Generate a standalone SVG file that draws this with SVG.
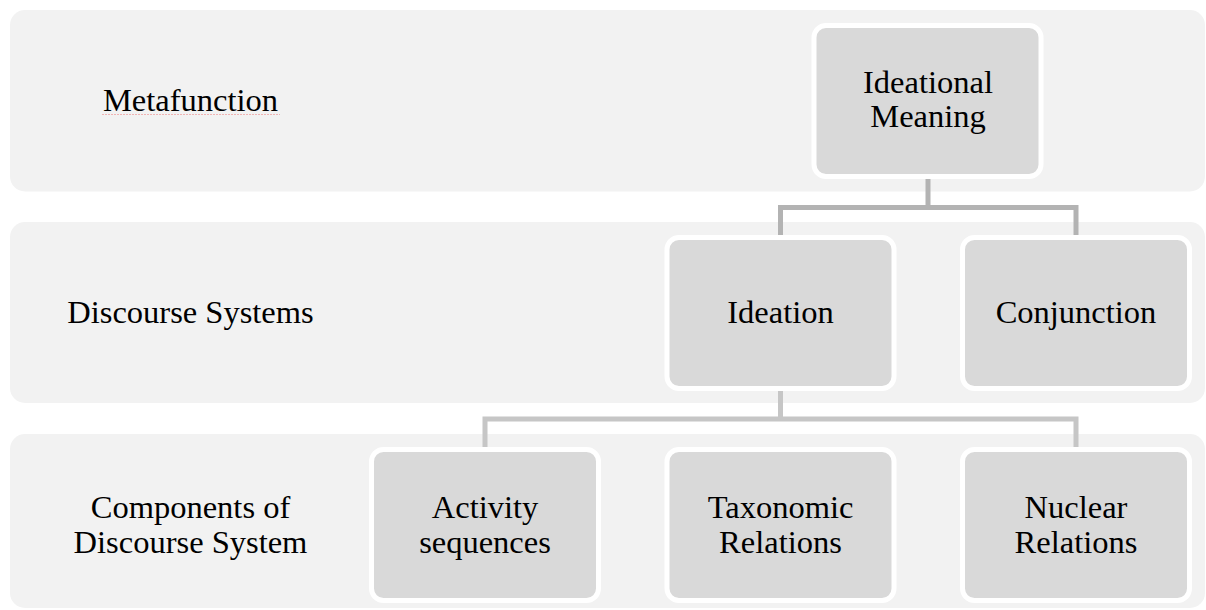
<svg xmlns="http://www.w3.org/2000/svg" width="1206" height="610" viewBox="0 0 1206 610">
<style>
.band{fill:#f2f2f2}
.node{fill:#d9d9d9;stroke:#ffffff;stroke-width:5}
.t{font-family:"Liberation Serif","Times New Roman",serif;font-size:32.5px;fill:#000;text-anchor:middle}
.c1{fill:none;stroke:#b3b3b3;stroke-width:5}
.c2{fill:none;stroke:#c6c6c6;stroke-width:5}
</style>
<rect width="1206" height="610" fill="#ffffff"/>
<g id="bands">
<g id="band-metafunction">
<rect class="band" x="10" y="10" width="1195" height="181.5" rx="15"/>
<text class="t" x="190.5" y="111">Metafunction</text>
<line x1="102" y1="114.5" x2="280" y2="114.5" stroke="#f0b4b4" stroke-width="1" stroke-dasharray="2 1"/>
</g>
<g id="band-discourse-systems">
<rect class="band" x="10" y="222" width="1195" height="181" rx="15"/>
<text class="t" x="190.5" y="323">Discourse Systems</text>
</g>
<g id="band-components">
<rect class="band" x="10" y="434" width="1195" height="174" rx="15"/>
<text class="t" x="190.5" y="517.5">Components of</text>
<text class="t" x="190.5" y="552.5">Discourse System</text>
</g>
</g>
<g id="connectors">
<path class="c1" d="M928 179 V207.5 M780.5 235 V207.5 H1076 V235"/>
<path class="c2" d="M780.5 391 V419 M485 447 V419 H1076 V447"/>
</g>
<g id="node-ideational-meaning">
<rect class="node" x="814" y="25.5" width="227" height="151" rx="12"/>
<text class="t" x="928" y="93">Ideational</text>
<text class="t" x="928" y="127">Meaning</text>
</g>
<g id="node-ideation">
<rect class="node" x="667" y="237.5" width="227" height="151" rx="12"/>
<text class="t" x="780.5" y="323">Ideation</text>
</g>
<g id="node-conjunction">
<rect class="node" x="962.5" y="237.5" width="227" height="151" rx="12"/>
<text class="t" x="1076" y="323">Conjunction</text>
</g>
<g id="node-activity-sequences">
<rect class="node" x="371.5" y="449.5" width="227" height="151" rx="12"/>
<text class="t" x="485" y="518">Activity</text>
<text class="t" x="485" y="553">sequences</text>
</g>
<g id="node-taxonomic-relations">
<rect class="node" x="667" y="449.5" width="227" height="151" rx="12"/>
<text class="t" x="780.5" y="518">Taxonomic</text>
<text class="t" x="780.5" y="553">Relations</text>
</g>
<g id="node-nuclear-relations">
<rect class="node" x="962.5" y="449.5" width="227" height="151" rx="12"/>
<text class="t" x="1076" y="518">Nuclear</text>
<text class="t" x="1076" y="553">Relations</text>
</g>
</svg>
